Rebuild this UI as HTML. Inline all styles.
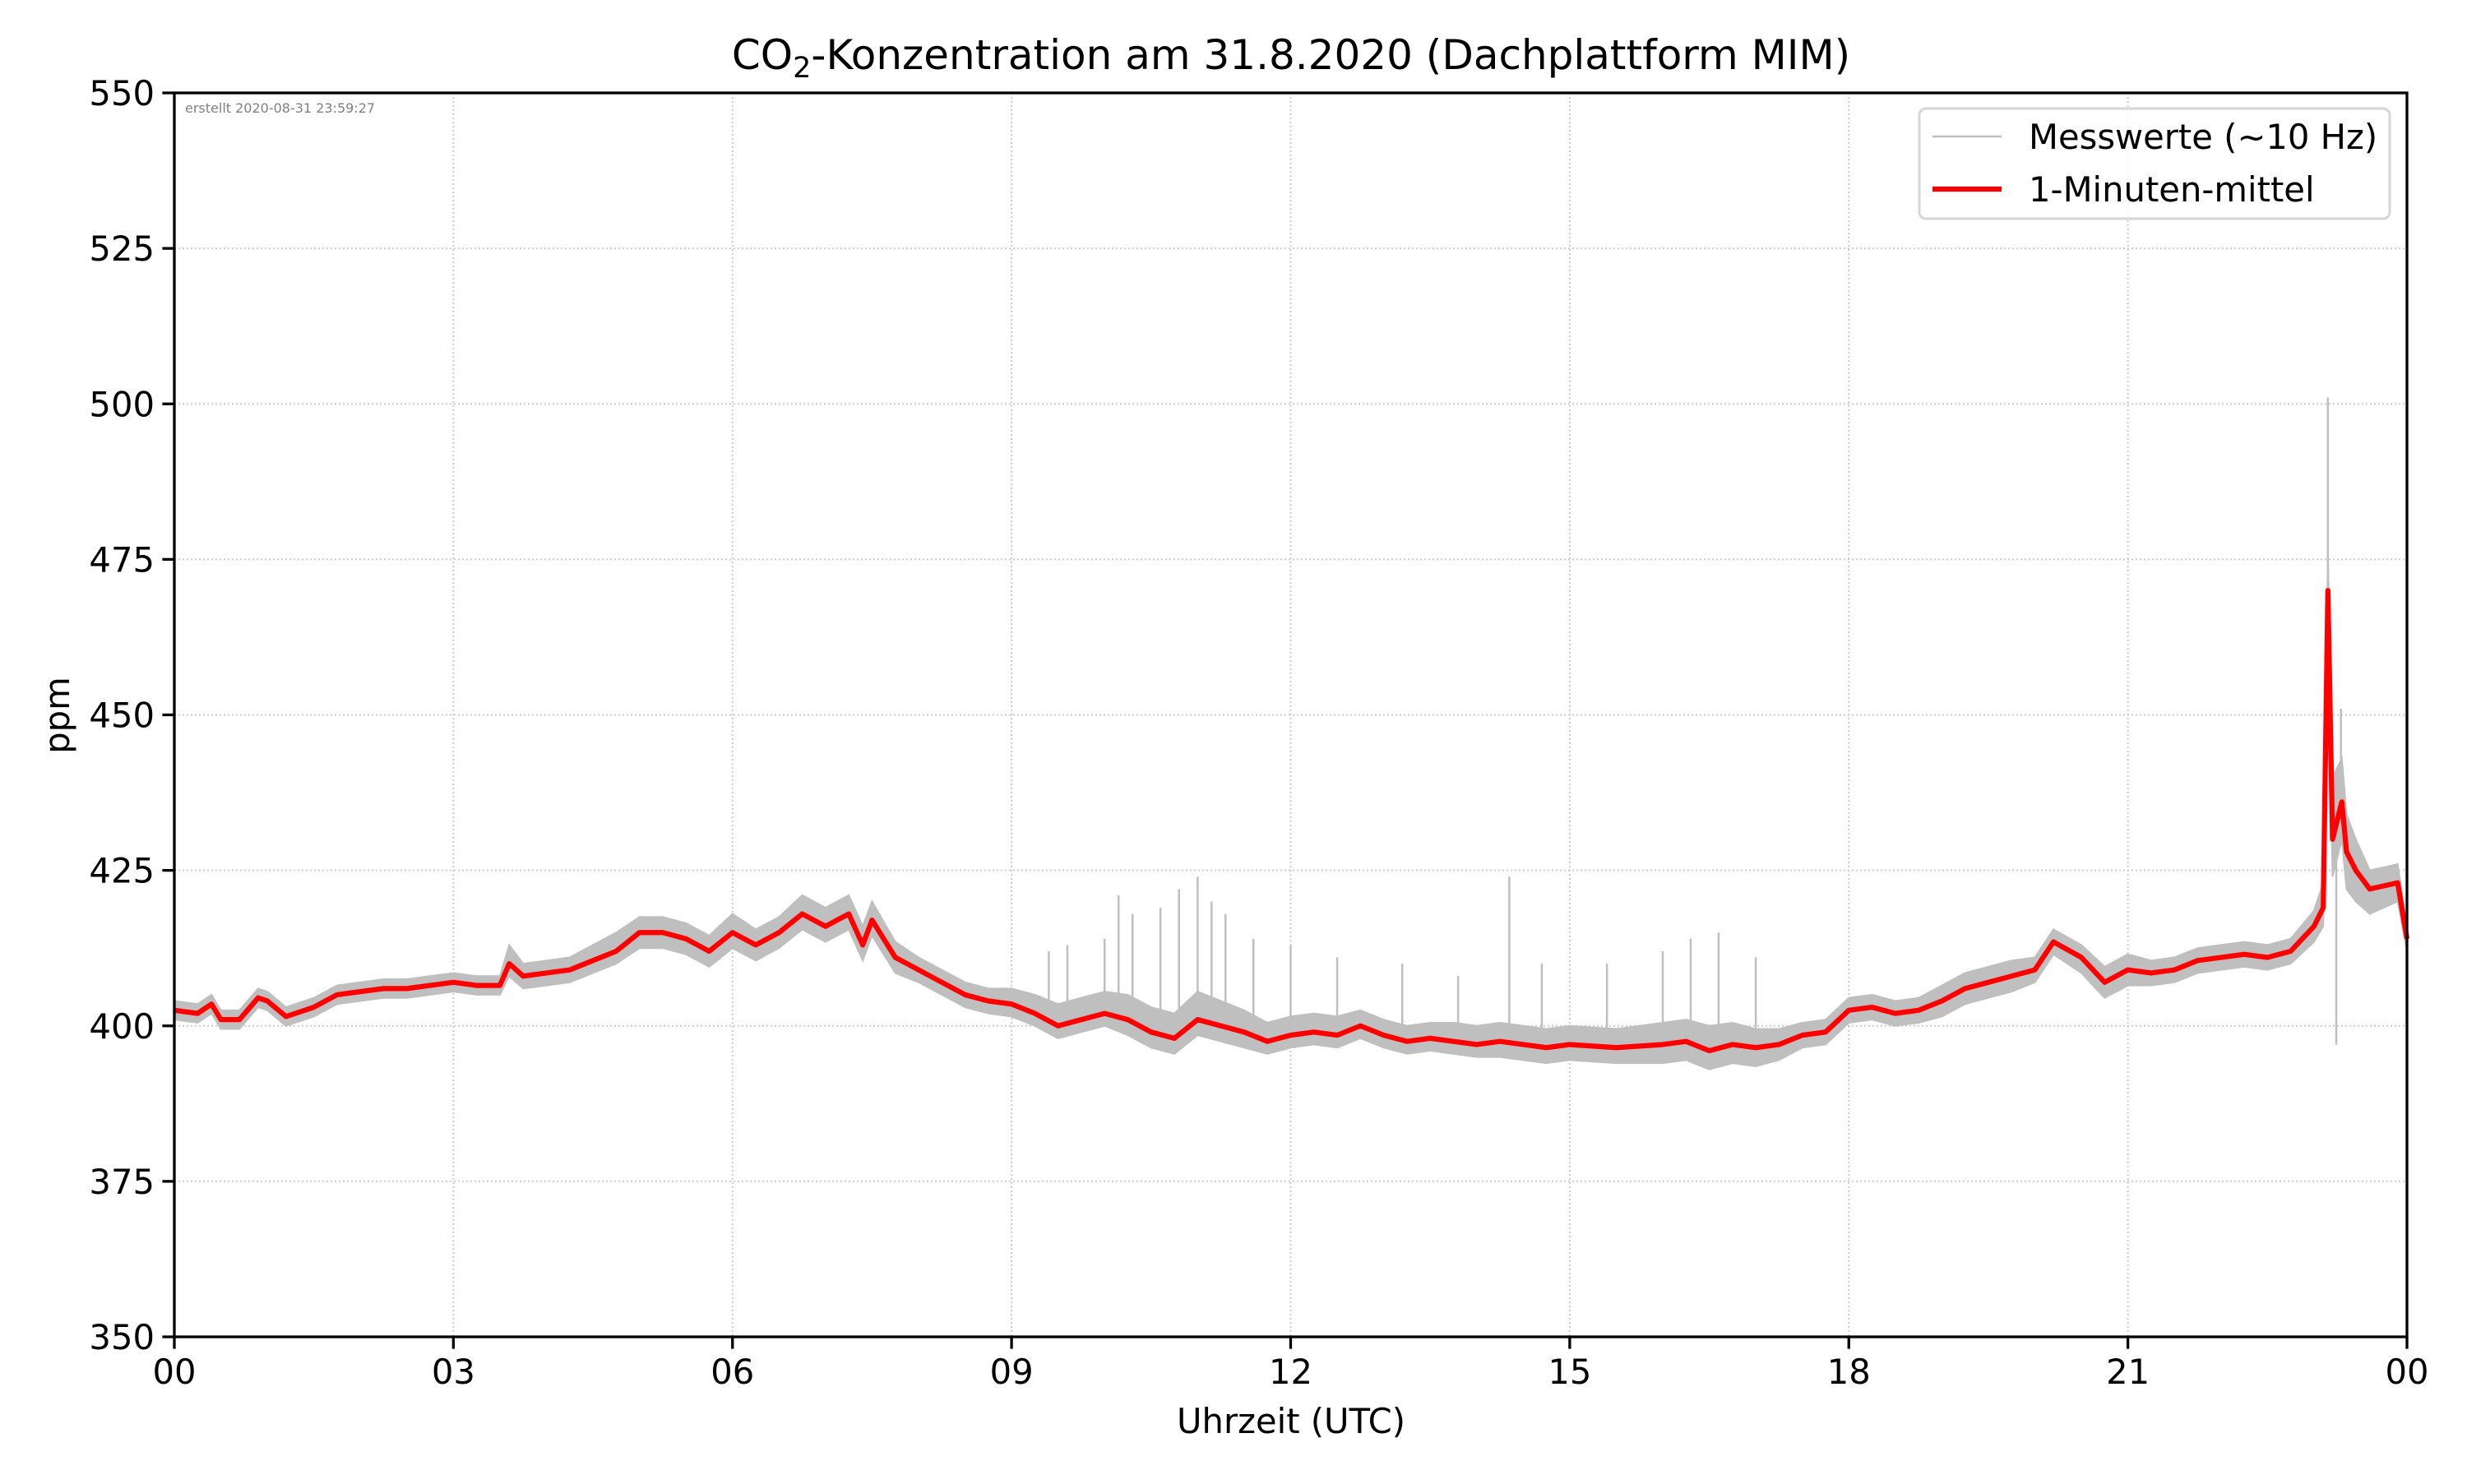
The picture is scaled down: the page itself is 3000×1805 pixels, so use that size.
<!DOCTYPE html>
<html><head><meta charset="utf-8"><style>
body{margin:0;background:#fff;}
svg text{font-family:"DejaVu Sans","Liberation Sans",sans-serif;}
</style></head><body>
<svg id="chart" width="3000" height="1800" xmlns="http://www.w3.org/2000/svg">
<rect width="3000" height="1800" fill="#fff"/>
<g id="grid"></g>
<g id="gray"></g>
<g id="red"></g>
<g id="axes"></g>
<text x="1570" y="84" font-size="50" text-anchor="middle">CO<tspan font-size="35" dy="10">2</tspan><tspan dy="-10">-Konzentration am 31.8.2020 (Dachplattform MIM)</tspan></text>
<text x="1570" y="1743" font-size="41.7" text-anchor="middle">Uhrzeit (UTC)</text>
<text x="84" y="870" font-size="41.7" text-anchor="middle" transform="rotate(-90 84 870)">ppm</text>
<text x="225" y="137" font-size="16" fill="#808080">erstellt 2020-08-31 23:59:27</text>
<g>
<rect x="2334" y="132" width="572" height="134" rx="8" fill="#fff" fill-opacity="0.8" stroke="#d6d6d6" stroke-width="3"/>
<line x1="2350" y1="166" x2="2434" y2="166" stroke="#bfbfbf" stroke-width="2.5"/>
<text x="2467" y="181" font-size="41.7">Messwerte (~10 Hz)</text>
<line x1="2350" y1="230" x2="2434" y2="230" stroke="#ff0000" stroke-width="6.25"/>
<text x="2467" y="245" font-size="41.7">1-Minuten-mittel</text>
</g>
</svg>
<script>
const times=[0,0.25,0.4,0.5,0.7,0.9,1.0,1.2,1.5,1.75,2.0,2.25,2.5,2.75,3.0,3.25,3.5,3.6,3.75,4.0,4.25,4.5,4.75,5.0,5.25,5.5,5.75,6.0,6.25,6.5,6.75,7.0,7.25,7.4,7.5,7.75,8.0,8.25,8.5,8.75,9.0,9.25,9.5,9.75,10.0,10.25,10.5,10.75,11.0,11.25,11.5,11.75,12.0,12.25,12.5,12.75,13.0,13.25,13.5,13.75,14.0,14.25,14.5,14.75,15.0,15.5,16.0,16.25,16.5,16.75,17.0,17.25,17.5,17.75,18.0,18.25,18.5,18.75,19.0,19.25,19.5,19.75,20.0,20.2,20.5,20.75,21.0,21.25,21.5,21.75,22.0,22.25,22.5,22.75,23.0,23.1,23.15,23.2,23.3,23.35,23.45,23.6,23.9,24.0];
const meanValues=[402.5,402,403.5,401,401,404.5,404,401.5,403,405,405.5,406,406,406.5,407,406.5,406.5,410,408,408.5,409,410.5,412,415,415,414,412,415,413,415,418,416,418,413,417,411,409,407,405,404,403.5,402,400,401,402,401,399,398,401,400,399,397.5,398.5,399,398.5,400,398.5,397.5,398,397.5,397,397.5,397,396.5,397,396.5,397,397.5,396,397,396.5,397,398.5,399,402.5,403,402,402.5,404,406,407,408,409,413.5,411,407,409,408.5,409,410.5,411,411.5,411,412,416,419,470,430,436,428,425,422,423,414];
const grayUpOffset=[1.5,1.5,1.5,1.5,1.5,1.5,1.5,1.5,1.5,1.5,1.5,1.5,1.5,1.5,1.5,1.5,1.5,3,2,2,2,2.5,3,2.5,2.5,2.5,2.5,3,2.5,2.5,3,3,3,3,3,2.5,2,2,2,2,2.5,3,3.5,3.5,3.5,4,4,4,4.5,4,3.5,3,3,3,3,2.5,2.5,2.5,2.5,3,3,3,3,3,3,3,3.5,3.5,4,3.5,3,2.5,2,2,2,2,2,2,2.5,2.5,2.5,2.5,2,2,2,2.5,2.5,2,2,2,2,2,2,2,2.5,4,6,10,7,6,5,3,3,2];
const grayDownOffset=[1.5,1.5,1.5,1.5,1.5,1.5,1.5,1.5,1.5,1.5,1.5,1.5,1.5,1.5,1.5,1.5,1.5,2,2,2,2,2,2,2.5,2.5,2.5,2.5,2.5,2.5,2.5,2.5,2.5,2.5,2.5,2.5,2.5,2,2,2,2,2,2,2,2,2,2.5,2.5,2.5,2.5,2.5,2.5,2,2,2,2,2,2,2,2,2,2,2.5,2.5,2.5,2.5,2.5,3,3,3,3,3,2.5,2,2,2,2,2,2,2.5,2.5,2.5,2.5,2,2,2.5,2.5,2.5,2,2,2,2,2,2,2,2.5,3,4,6,6,6,5,4,3,2];
const spikeTimes=[9.4,9.6,10.0,10.15,10.3,10.6,10.8,11.0,11.15,11.3,11.6,12.0,12.5,13.2,13.8,14.35,14.7,15.4,16.0,16.3,16.6,17.0,23.15,23.29];
const spikeTops=[412,413,414,421,418,419,422,424,420,418,414,413,411,410,408,424,410,410,412,414,415,411,501,451];
const lowSpikeTimes=[23.24];
const lowSpikeBottoms=[397];
const xTicks=[0,3,6,9,12,15,18,21,24];
const xTickLabels=["00","03","06","09","12","15","18","21","00"];
const yTicks=[350,375,400,425,450,475,500,525,550];

const L=212,R=2927,T=113,B=1626;
const xs=t=>L+t/24*(R-L);
const ys=v=>B-(v-350)/200*(B-T);
const NS="http://www.w3.org/2000/svg";
function mk(tag,parent){const e=document.createElementNS(NS,tag);document.getElementById(parent).appendChild(e);return e;}

xTicks.forEach(t=>{const l=mk('line','grid');


l.setAttribute('x1',xs(t));l.setAttribute('x2',xs(t));l.setAttribute('y1',T);l.setAttribute('y2',B);
l.setAttribute('stroke','#cccccc');l.setAttribute('stroke-width','2');l.setAttribute('stroke-dasharray','2,3');});
yTicks.forEach(v=>{const l=mk('line','grid');


l.setAttribute('x1',L);l.setAttribute('x2',R);l.setAttribute('y1',ys(v));l.setAttribute('y2',ys(v));
l.setAttribute('stroke','#cccccc');l.setAttribute('stroke-width','2');l.setAttribute('stroke-dasharray','2,3');});

let up=times.map((t,i)=>xs(t)+','+ys(meanValues[i]+grayUpOffset[i]));
let dn=times.map((t,i)=>xs(t)+','+ys(meanValues[i]-grayDownOffset[i])).reverse();
const band=mk('polygon','gray');


band.setAttribute('points',up.concat(dn).join(' '));
band.setAttribute('fill','#bfbfbf');band.setAttribute('stroke','#bfbfbf');band.setAttribute('stroke-width','2');
function meanAt(t){for(let i=1;i<times.length;i++){if(t<=times[i]){const f=(t-times[i-1])/(times[i]-times[i-1]);return meanValues[i-1]+f*(meanValues[i]-meanValues[i-1]);}}return meanValues[meanValues.length-1];}
spikeTimes.forEach((t,i)=>{const l=mk('line','gray');


l.setAttribute('x1',xs(t));l.setAttribute('x2',xs(t));l.setAttribute('y1',ys(meanAt(t)));l.setAttribute('y2',ys(spikeTops[i]));
l.setAttribute('stroke','#bfbfbf');l.setAttribute('stroke-width','2.5');});
lowSpikeTimes.forEach((t,i)=>{const l=mk('line','gray');


l.setAttribute('x1',xs(t));l.setAttribute('x2',xs(t));l.setAttribute('y1',ys(meanAt(t)));l.setAttribute('y2',ys(lowSpikeBottoms[i]));
l.setAttribute('stroke','#bfbfbf');l.setAttribute('stroke-width','2.5');});

const pl=mk('polyline','red');


pl.setAttribute('points',times.map((t,i)=>xs(t)+','+ys(meanValues[i])).join(' '));
pl.setAttribute('fill','none');pl.setAttribute('stroke','#ff0000');pl.setAttribute('stroke-width','6.25');pl.setAttribute('stroke-linejoin','round');

const fr=mk('rect','axes');


fr.setAttribute('x',L);fr.setAttribute('y',T);fr.setAttribute('width',R-L);fr.setAttribute('height',B-T);
fr.setAttribute('fill','none');fr.setAttribute('stroke','#000');fr.setAttribute('stroke-width','3.3');
xTicks.forEach((t,i)=>{const l=mk('line','axes');


l.setAttribute('x1',xs(t));l.setAttribute('x2',xs(t));l.setAttribute('y1',B);l.setAttribute('y2',B+14.6);
l.setAttribute('stroke','#000');l.setAttribute('stroke-width','3.3');
const tx=mk('text','axes');


tx.setAttribute('x',xs(t));tx.setAttribute('y',B+57);tx.setAttribute('font-size','41.7');tx.setAttribute('text-anchor','middle');
tx.textContent=xTickLabels[i];});
yTicks.forEach(v=>{const l=mk('line','axes');


l.setAttribute('x1',L-14.6);l.setAttribute('x2',L);l.setAttribute('y1',ys(v));l.setAttribute('y2',ys(v));
l.setAttribute('stroke','#000');l.setAttribute('stroke-width','3.3');
const tx=mk('text','axes');


tx.setAttribute('x',L-24);tx.setAttribute('y',ys(v)+15);tx.setAttribute('font-size','41.7');tx.setAttribute('text-anchor','end');
tx.textContent=v;});
</script>
</body></html>
